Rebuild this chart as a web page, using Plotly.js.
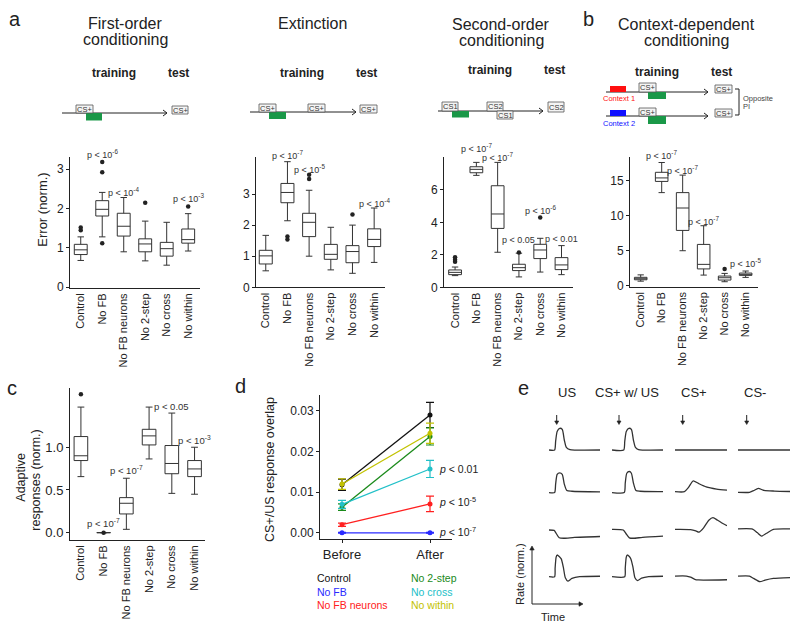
<!DOCTYPE html>
<html><head><meta charset="utf-8">
<script src="https://cdn.plot.ly/plotly-3.0.1.min.js"></script>
<style>body{margin:0;background:#fff;} #chart{width:800px;height:631px;}</style>
</head><body><div id="chart"></div>
<script>
const W=800,H=631;
const FONT='Liberation Sans, Arial, Helvetica, sans-serif';
const INK='#222';

// ---------- DATA ----------
const categories=['Control','No FB','No FB neurons','No 2-step','No cross','No within'];

// a: First-order conditioning
const a1_q1=[0.83,1.81,1.30,0.90,0.79,1.12];
const a1_med=[0.95,1.98,1.55,1.10,0.98,1.21];
const a1_q3=[1.09,2.20,1.88,1.23,1.14,1.48];
const a1_lo=[0.68,1.28,0.90,0.67,0.56,0.92];
const a1_hi=[1.28,2.41,2.28,1.68,1.65,1.87];
const a1_outCat=['Control','Control','No FB','No FB','No FB','No 2-step','No within'];
const a1_outVal=[1.45,1.52,3.18,2.92,1.12,2.15,2.05];
const a1_pCat=['No FB','No FB neurons','No within'];
const a1_pVal=[3.39,2.43,2.26];
const a1_pTxt=['-6','-4','-3'];

// a: Extinction
const a2_q1=[0.75,2.72,1.63,0.90,0.79,1.31];
const a2_med=[1.01,3.05,2.09,1.06,1.15,1.54];
const a2_q3=[1.19,3.34,2.38,1.38,1.34,1.88];
const a2_lo=[0.53,2.14,1.00,0.56,0.45,0.80];
const a2_hi=[1.67,4.04,3.12,1.93,2.00,2.55];
const a2_outCat=['No FB','No FB','No FB neurons','No FB neurons','No cross'];
const a2_outVal=[1.63,1.54,3.62,3.48,2.34];
const a2_pCat=['No FB','No FB neurons','No within'];
const a2_pVal=[4.25,3.79,2.70];
const a2_pTxt=['-7','-5','-4'];

// a: Second-order conditioning
const a3_q1=[0.78,7.06,3.63,1.03,1.77,1.09];
const a3_med=[0.92,7.27,4.52,1.21,2.30,1.38];
const a3_q3=[1.07,7.43,6.26,1.42,2.65,1.83];
const a3_lo=[0.72,6.90,2.16,0.64,0.94,0.78];
const a3_hi=[1.25,7.70,7.70,2.10,3.02,2.57];
const a3_outCat=['Control','Control','Control','No 2-step','No cross'];
const a3_outVal=[1.58,1.70,1.85,2.14,4.31];
const a3_pCat=['No FB','No FB neurons','No 2-step','No cross','No within'];
const a3_pVal=[8.6,8.05,2.9,4.76,3.0];
const a3_pTxt=['-7','-7','0.05','-6','0.01'];

// b: Context-dependent conditioning
const b_q1=[0.85,14.9,7.9,2.4,0.81,1.48];
const b_med=[1.0,15.4,11.1,3.05,1.14,1.62];
const b_q3=[1.2,16.2,13.3,5.9,1.38,1.81];
const b_lo=[0.65,13.3,5.0,1.52,0.57,1.19];
const b_hi=[1.55,17.6,15.8,8.57,1.76,2.1];
const b_outCat=['No cross'];
const b_outVal=[2.38];
const b_pCat=['No FB','No FB neurons','No 2-step','No within'];
const b_pVal=[18.7,16.5,9.3,3.3];
const b_pTxt=['-7','-7','-7','-5'];

// c: Adaptive responses
const c_q1=[0.844,0,0.219,1.027,0.69,0.656];
const c_med=[0.90,0,0.344,1.133,0.81,0.746];
const c_q3=[1.125,0,0.41,1.21,1.02,0.844];
const c_lo=[0.656,0,0.039,0.863,0.46,0.45];
const c_hi=[1.47,0,0.637,1.47,1.40,1.0];
const c_outCat=['Control','No FB'];
const c_outVal=[1.62,0];
const c_pCat=['No FB','No FB neurons','No cross','No within'];
const c_pVal=[0.11,0.73,1.48,1.086];
const c_pTxt=['-7','-7','0.05','-3'];

// d: CS+/US response overlap
const d_phases=['Before','After'];
const d_groups=['Control','No FB','No FB neurons','No 2-step','No cross','No within'];
const d_colors=['#111111','#2a2aff','#ff2020','#1a8a1a','#22c0c8','#c2c200'];
const d_before=[0.0118,0,0.0020,0.0063,0.0070,0.0120];
const d_after=[0.0290,0,0.0071,0.0237,0.0157,0.0245];
const d_errBefore=[0.0014,0.0001,0.0004,0.0008,0.0010,0.0013];
const d_errAfter=[0.0031,0.0001,0.0019,0.0021,0.0021,0.0025];
const d_pVal=[0.0157,0.0077,0.0002];
const d_pTxt=['0.01','-5','-7'];

// e: example rate traces (rows = neurons, columns = conditions)
const e_cols=['US','CS+ w/ US','CS+','CS-'];
const e_US_t=[[0,0.11,0.13,0.16,0.21,0.26,0.30,0.34,0.41,1],[0,0.11,0.13,0.16,0.21,0.26,0.30,0.35,0.45,1],[0,0.10,0.14,0.20,0.30,0.50,1],[0,0.11,0.12,0.14,0.16,0.20,0.24,0.28,0.32,0.37,0.45,0.60,1]];
const e_US_v=[[0,0,0.4,0.85,1.0,0.95,0.46,0.12,0.02,0],[-0.04,-0.04,0.35,0.8,0.87,0.8,0.35,0.05,0.02,-0.01],[0,-0.02,-0.15,-0.36,-0.38,-0.34,-0.3],[0,0,0.4,0.9,1.0,0.93,0.82,0.45,-0.05,-0.2,-0.08,0,0.02]];
const e_CSUS_t=[[0,0.23,0.25,0.28,0.33,0.38,0.42,0.46,0.52,1],[0,0.24,0.26,0.29,0.34,0.38,0.42,0.47,0.55,1],[0,0.22,0.27,0.34,0.42,0.60,1],[0,0.25,0.26,0.28,0.30,0.34,0.37,0.41,0.45,0.50,0.58,0.72,1]];
const e_CSUS_v=[[0,0,0.4,0.85,1.0,0.95,0.46,0.12,0.02,0],[-0.04,-0.04,0.4,0.85,0.93,0.85,0.4,0.05,0.02,0],[0.03,0,-0.15,-0.36,-0.38,-0.34,-0.28],[0,0,0.4,0.9,1.0,0.93,0.82,0.45,-0.05,-0.18,-0.07,0,0.02]];
const e_CSp_t=[[0,1],[0,0.18,0.26,0.35,0.45,0.60,0.80,1],[0,0.30,0.40,0.46,0.55,0.65,0.73,0.82,0.92,1],[0,0.22,0.30,0.38,0.45,1]];
const e_CSp_v=[[0,0],[0,0,0.2,0.5,0.38,0.22,0.12,0.07],[0.03,0.02,-0.04,-0.1,0.1,0.45,0.57,0.45,0.3,0.2],[0.03,0.03,-0.02,-0.12,-0.15,-0.14]];
const e_CSm_t=[[0,1],[0,0.22,0.30,0.39,0.50,0.70,1],[0,0.28,0.37,0.45,0.55,0.68,1],[0,0.22,0.30,0.42,0.52,0.68,1]];
const e_CSm_v=[[0,0],[-0.03,-0.03,0.05,0.15,0.06,0.03,0.01],[0.05,0.04,-0.12,-0.28,-0.15,0.03,0.05],[0.03,0.03,-0.08,-0.23,-0.16,-0.08,-0.04]];

// ---------- HELPERS ----------
const px=x=>x/W, py=y=>1-y/H;
const traces=[], annotations=[], shapes=[];
const layout={width:W,height:H,margin:{l:0,r:0,t:0,b:0},paper_bgcolor:'#fff',plot_bgcolor:'rgba(0,0,0,0)',showlegend:false,font:{family:FONT,color:INK}};

function txt(x,y,text,size,opt){
  annotations.push(Object.assign({xref:'paper',yref:'paper',x:px(x),y:py(y),text:text,showarrow:false,xanchor:'center',yanchor:'middle',font:{size:size,color:INK,family:FONT}},opt||{}));
}
function rect(x0,y0,x1,y1,fill,lineColor){
  shapes.push({type:'rect',xref:'paper',yref:'paper',x0:px(x0),x1:px(x1),y0:py(y1),y1:py(y0),fillcolor:fill,line:{color:lineColor||fill,width:lineColor?0.8:0},layer:'above'});
}
function line(x0,y0,x1,y1,color,w){
  shapes.push({type:'line',xref:'paper',yref:'paper',x0:px(x0),x1:px(x1),y0:py(y0),y1:py(y1),line:{color:color||INK,width:w||1},layer:'above'});
}
function path(pts,color,w,fill,close){
  const d=pts.map((p,i)=>(i?'L':'M')+px(p[0]).toFixed(5)+','+py(p[1]).toFixed(5)).join(' ')+(close?' Z':'');
  const s={type:'path',xref:'paper',yref:'paper',path:d,line:{color:color||INK,width:w||1},layer:'above'};
  if(fill) s.fillcolor=fill;
  shapes.push(s);
}
function timeline(x0,x1,y){ line(x0,y,x1,y,INK,1); path([[x1-4,y-3],[x1,y],[x1-4,y+3]],INK,1); }
function arrowDown(x,y0,y1){ line(x,y0,x,y1-2,INK,1); path([[x-2,y1-3.5],[x,y1],[x+2,y1-3.5]],INK,0.6,INK,true); }
function arrowUp(x,y0,y1){ line(x,y0,x,y1+2,INK,1); path([[x-2.2,y1+4],[x,y1],[x+2.2,y1+4]],INK,0.6,INK,true); }
function arrowRight(y,x0,x1){ line(x0,y,x1-2,y,INK,1); path([[x1-4,y-2.2],[x1,y],[x1-4,y+2.2]],INK,0.6,INK,true); }
function csbox(x0,y0,x1,y1,label){ rect(x0,y0,x1,y1,'#f4f4f4','#555'); txt((x0+x1)/2,(y0+y1)/2+0.3,label,7.5,{font:{size:7.5,color:'#333',family:FONT}}); }
function ptext(s){ return s.startsWith('-') ? 'p &lt; 10<sup>'+s+'</sup>' : 'p &lt; '+s; }

const baseAxis={showline:true,linecolor:INK,linewidth:1,showgrid:false,zeroline:false,fixedrange:true};
function boxAxes(n,xd,xr,yd,yr,tickvals,ticktext,ytf){
  layout['xaxis'+n]=Object.assign({},baseAxis,{domain:[px(xd[0]),px(xd[1])],range:xr,type:'category',categoryarray:categories,tickangle:-90,ticks:'',tickfont:{size:11,color:INK,family:FONT},anchor:'y'+n});
  layout['yaxis'+n]=Object.assign({},baseAxis,{domain:[py(yd[1]),py(yd[0])],range:yr,tickmode:'array',tickvals:tickvals,ticktext:ticktext,ticks:'outside',ticklen:3,tickcolor:INK,tickfont:{size:ytf||12,color:INK,family:FONT},anchor:'x'+n});
  return {n:n,xd:xd,xr:xr,yd:yd,yr:yr};
}
// place a label through the panel's own scales (also valid outside the drawn range)
function scaleX(g,cat){ const i=categories.indexOf(cat); return g.xd[0]+(i-g.xr[0])/(g.xr[1]-g.xr[0])*(g.xd[1]-g.xd[0]); }
function scaleY(g,v){ return g.yd[1]-(v-g.yr[0])/(g.yr[1]-g.yr[0])*(g.yd[1]-g.yd[0]); }
function boxPanel(g,q1,med,q3,lo,hi,outCat,outVal,pCat,pVal,pTxt,pSize){
  const xa='x'+g.n, ya='y'+g.n;
  traces.push({type:'box',x:categories,q1:q1,median:med,q3:q3,lowerfence:lo,upperfence:hi,xaxis:xa,yaxis:ya,width:0.6,whiskerwidth:0.5,fillcolor:'#fff',line:{color:'#333',width:1},boxpoints:false,hoverinfo:'skip'});
  traces.push({type:'scatter',mode:'markers',x:outCat,y:outVal,xaxis:xa,yaxis:ya,marker:{size:4.5,color:INK},hoverinfo:'skip',cliponaxis:false});
  pCat.forEach((c,i)=>txt(scaleX(g,c),scaleY(g,pVal[i]),ptext(pTxt[i]),pSize||9,{font:{size:pSize||9,color:'#333',family:FONT}}));
}

// ---------- PANEL a / b ----------
const gA1=boxAxes(1,[70,200],[-0.5,5.55],[157,288],[-0.02,3.31],[0,1,2,3],['0','1','2','3']);
boxPanel(gA1,a1_q1,a1_med,a1_q3,a1_lo,a1_hi,a1_outCat,a1_outVal,a1_pCat,a1_pVal,a1_pTxt);
const gA2=boxAxes(2,[256,385],[-0.45,5.5],[156.7,287.3],[0,4.2],[0,1,2,3],['0','1','2','3']);
boxPanel(gA2,a2_q1,a2_med,a2_q3,a2_lo,a2_hi,a2_outCat,a2_outVal,a2_pCat,a2_pVal,a2_pTxt);
const gA3=boxAxes(3,[444,573],[-0.52,5.54],[156.7,287.3],[0,8.05],[0,2,4,6],['0','2','4','6']);
boxPanel(gA3,a3_q1,a3_med,a3_q3,a3_lo,a3_hi,a3_outCat,a3_outVal,a3_pCat,a3_pVal,a3_pTxt);
const gB=boxAxes(4,[630,758],[-0.51,5.59],[156.7,286.7],[-0.14,18.43],[0,5,10,15],['0','5','10','15']);
boxPanel(gB,b_q1,b_med,b_q3,b_lo,b_hi,b_outCat,b_outVal,b_pCat,b_pVal,b_pTxt);
// ---------- PANEL c ----------
const gC=boxAxes(5,[70,205],[-0.48,5.46],[388.3,540],[-0.086,1.69],[0,0.5,1.0],['0.0','0.5','1.0'],13);
boxPanel(gC,c_q1,c_med,c_q3,c_lo,c_hi,c_outCat,c_outVal,c_pCat,c_pVal,c_pTxt,9.5);

// ---------- PANEL d ----------
layout.xaxis6=Object.assign({},baseAxis,{domain:[px(320),px(452)],range:[-0.25,1.25],type:'category',categoryarray:d_phases,ticks:'outside',ticklen:3,tickcolor:INK,tickfont:{size:13,color:INK,family:FONT},anchor:'y6'});
layout.yaxis6=Object.assign({},baseAxis,{domain:[py(539.3),py(395)],range:[-0.0016,0.0339],tickmode:'array',tickvals:[0,0.01,0.02,0.03],ticktext:['0.00','0.01','0.02','0.03'],ticks:'outside',ticklen:3,tickcolor:INK,tickfont:{size:12,color:INK,family:FONT},anchor:'x6'});
d_groups.forEach((g,i)=>{
  traces.push({type:'scatter',mode:'lines+markers',x:d_phases,y:[d_before[i],d_after[i]],xaxis:'x6',yaxis:'y6',
    line:{color:d_colors[i],width:1.3},marker:{color:d_colors[i],size:5},
    error_y:{type:'data',array:[d_errBefore[i],d_errAfter[i]],color:d_colors[i],thickness:1.2,width:4},hoverinfo:'skip',cliponaxis:false});
});
d_pTxt.forEach((s,i)=>annotations.push({xref:'x6',yref:'y6',x:1,y:d_pVal[i],xshift:7,text:'<i>p</i> '+ptext(s).slice(2),showarrow:false,xanchor:'left',yanchor:'middle',font:{size:10.5,color:INK,family:FONT}}));
// legend as coloured text
d_groups.forEach((g,i)=>{
  const col=Math.floor(i/3), row=i%3;
  txt(col?409:315, 578.3+row*13.4, g, 10.5, {xanchor:'left',font:{size:10.5,color:d_colors[i],family:FONT}});
});

// ---------- PANEL e ----------
const eRows=[450,491.7,530,576.7];
const eColsX=[[549,600],[612,663],[675,727],[738,790]];
const eUnit=21.7;
const eT=[e_US_t,e_CSUS_t,e_CSp_t,e_CSm_t], eV=[e_US_v,e_CSUS_v,e_CSp_v,e_CSm_v];
for(let r=0;r<4;r++){for(let c=0;c<4;c++){
  const n=7+r*4+c;
  layout['xaxis'+n]={domain:[px(eColsX[c][0]),px(eColsX[c][1])],range:[0,1],visible:false,fixedrange:true,anchor:'y'+n};
  layout['yaxis'+n]={domain:[py(eRows[r]+0.6*eUnit),py(eRows[r]-1.3*eUnit)],range:[-0.6,1.3],visible:false,fixedrange:true,anchor:'x'+n};
  traces.push({type:'scatter',mode:'lines',x:eT[c][r],y:eV[c][r],xaxis:'x'+n,yaxis:'y'+n,line:{color:'#333',width:1.3,shape:'spline',smoothing:0.6},hoverinfo:'skip',cliponaxis:false});
}}
const eHeadX=[567,627,693.7,755];
e_cols.forEach((s,i)=>txt(eHeadX[i],392,s,13));
const eArrowX=[556.7,619,682.7,746.7];
eArrowX.forEach(x=>arrowDown(x,415,424.5));
arrowUp(532,604,546);
arrowRight(604,532,583);
txt(553,617,'Time',11);
txt(520,574,'Rate (norm.)',11,{textangle:-90});

// ---------- TITLES, LABELS ----------
txt(15,19,'a',20); txt(588,19,'b',20); txt(12,388,'c',20); txt(240,386,'d',20); txt(523,388,'e',20);
txt(125.5,23.5,'First-order',16); txt(125.5,40,'conditioning',16);
txt(312.5,23.5,'Extinction',16);
txt(501,24,'Second-order',16); txt(502,40.5,'conditioning',16);
txt(686,24,'Context-dependent',16); txt(686,40.5,'conditioning',16);
txt(41.7,210,'Error (norm.)',13,{textangle:-90});
txt(20.7,477,'Adaptive',12.5,{textangle:-90});
txt(35.7,480,'responses (norm.)',12.5,{textangle:-90});
txt(270,470,'CS+/US response overlap',12.5,{textangle:-90});

// ---------- TASK DIAGRAMS ----------
const GREEN='#1a9848';
// First-order
txt(114,73,'<b>training</b>',12); txt(178,73,'<b>test</b>',12);
timeline(62,167,113); rect(86,113,102,120.5,GREEN); csbox(76,105,93,113,'CS+'); csbox(172,106,188,114,'CS+');
// Extinction
txt(302,73,'<b>training</b>',12); txt(366,73,'<b>test</b>',12);
timeline(250,356,112); rect(269,112,286,119,GREEN); csbox(259,104,276,112,'CS+'); csbox(308,104,325,112,'CS+'); csbox(360,105,377,113,'CS+');
// Second-order
txt(490,70,'<b>training</b>',12); txt(554,70,'<b>test</b>',12);
timeline(438,543,111); rect(452,111,469,117.5,GREEN); csbox(442,102,458,111,'CS1'); csbox(487,102,503,111,'CS2'); csbox(497,111,513,119,'CS1'); csbox(548,102,564,112,'CS2');
// Context-dependent
txt(657,72,'<b>training</b>',12); txt(721,72,'<b>test</b>',12);
timeline(606,708,92); rect(610,86,626,92,'#ff1010'); rect(648,92,666,99,GREEN); csbox(639,83,656,92,'CS+'); csbox(715,85,732,93,'CS+');
txt(619,98.5,'Context 1',7.5,{font:{size:7.5,color:'#ff1010',family:FONT}});
timeline(606,708,116); rect(610,110,626,116,'#1010ff'); rect(648,116,666,124,GREEN); csbox(639,108,656,116,'CS+'); csbox(715,109,732,117,'CS+');
txt(619,123,'Context 2',7.5,{font:{size:7.5,color:'#1010ff',family:FONT}});
path([[735,89],[739,89],[739,115],[735,115]],INK,1);
txt(741,98,'Opposite',7.5,{xanchor:'left',font:{size:7.5,color:'#444',family:FONT}});
txt(741,106,'PI',7.5,{xanchor:'left',font:{size:7.5,color:'#444',family:FONT}});

layout.annotations=annotations; layout.shapes=shapes;
Plotly.newPlot('chart',traces,layout,{displayModeBar:false,staticPlot:true});
</script></body></html>
